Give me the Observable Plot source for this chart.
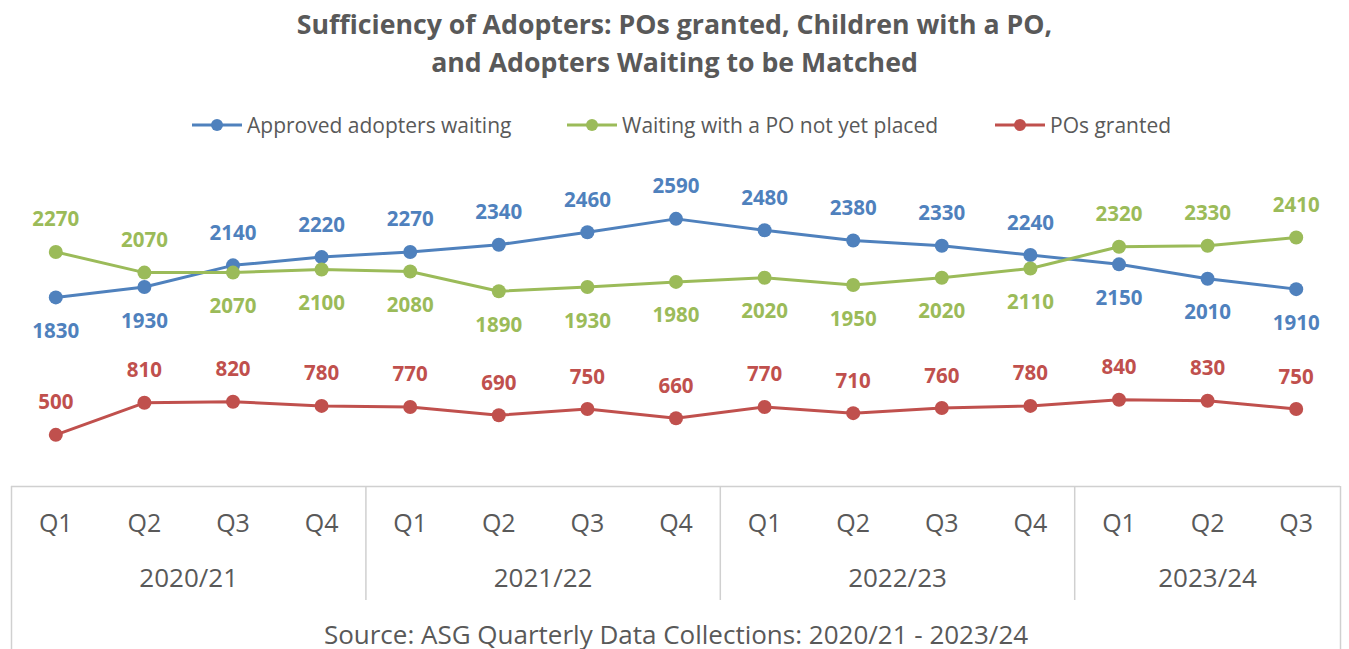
<!DOCTYPE html>
<html>
<head>
<meta charset="utf-8">
<script src="https://cdn.jsdelivr.net/npm/d3@7"></script>
<script src="https://cdn.jsdelivr.net/npm/@observablehq/plot@0.6"></script>
<style>
  html, body { margin: 0; padding: 0; background: #fff; }
  body { width: 1349px; height: 649px; overflow: hidden; font-family: "Open Sans", Lato, sans-serif; color: #595959; }
  #title { position: absolute; left: 0; top: 5px; width: 1349px; text-align: center; font-weight: bold; font-size: 26.7px; line-height: 38px; }
  #legend { position: absolute; top: 111px; left: 0; width: 1349px; height: 28px; }
  .item { position: absolute; display: flex; align-items: center; font-size: 21px; white-space: nowrap; }
  .item svg { margin-right: 5px; }
  #chart { position: absolute; top: 150px; left: 0; }
</style>
</head>
<body>
<div id="title">Sufficiency of Adopters: POs granted, Children with a PO,<br>and Adopters Waiting to be Matched</div>
<div id="legend"></div>
<div id="chart"></div>
<script>
const quarters = ["Q1","Q2","Q3","Q4","Q1","Q2","Q3","Q4","Q1","Q2","Q3","Q4","Q1","Q2","Q3"];
const years = ["2020/21","2020/21","2020/21","2020/21","2021/22","2021/22","2021/22","2021/22","2022/23","2022/23","2022/23","2022/23","2023/24","2023/24","2023/24"];
const seriesNames = ["Approved adopters waiting", "Waiting with a PO not yet placed", "POs granted"];
const seriesColors = ["#4F81BD", "#9BBB59", "#C0504D"];
const approved = [1830,1930,2140,2220,2270,2340,2460,2590,2480,2380,2330,2240,2150,2010,1910];
const waitingPO = [2270,2070,2070,2100,2080,1890,1930,1980,2020,1950,2020,2110,2320,2330,2410];
const posGranted = [500,810,820,780,770,690,750,660,770,710,760,780,840,830,750];
const approvedLabelSide = ["below","below","above","above","above","above","above","above","above","above","above","above","below","below","below"];
const waitingLabelSide = ["above","above","below","below","below","below","below","below","below","below","below","below","above","above","above"];
const grantedLabelSide = quarters.map(() => "above");
const caption = "Source: ASG Quarterly Data Collections: 2020/21 - 2023/24";

const seriesValues = [approved, waitingPO, posGranted];
const seriesSides = [approvedLabelSide, waitingLabelSide, grantedLabelSide];
const rows = [];
seriesNames.forEach((s, k) => {
  seriesValues[k].forEach((v, i) => rows.push({series: s, i, value: v, side: seriesSides[k][i]}));
});
const idx = quarters.map((_, i) => i);
const yearGroups = Array.from(d3.group(idx, i => years[i]), ([year, is]) => ({year, center: d3.mean(is)}));
const boundaries = idx.slice(1).filter(i => years[i] !== years[i - 1]).map(i => i - 0.5);
const edges = [-0.5, quarters.length - 0.5];

const font = "'Open Sans', Lato, sans-serif";
const chart = Plot.plot({
  width: 1349,
  height: 499,
  marginTop: 26,
  marginBottom: 163,
  marginLeft: 11,
  marginRight: 9,
  x: {domain: edges, axis: null},
  y: {domain: [0, 3000], axis: null},
  color: {domain: seriesNames, range: seriesColors},
  style: {fontFamily: font, color: "#595959", background: "white", overflow: "visible"},
  marks: [
    Plot.ruleY([0], {stroke: "#d0d0d0", strokeWidth: 1.5}),
    Plot.ruleX(boundaries, {stroke: "#d0d0d0", strokeWidth: 1.5, insetTop: 310, insetBottom: -114}),
    Plot.ruleX(edges, {stroke: "#d0d0d0", strokeWidth: 1.5, insetTop: 310, insetBottom: -163}),
    Plot.line(rows, {x: "i", y: "value", z: "series", stroke: "series", strokeWidth: 3}),
    Plot.dot(rows, {x: "i", y: "value", fill: "series", r: 7}),
    Plot.text(rows.filter(d => d.side === "above"), {x: "i", y: "value", text: d => String(d.value), fill: "series", dy: -32, fontSize: 20.5, fontWeight: "bold"}),
    Plot.text(rows.filter(d => d.side === "below"), {x: "i", y: "value", text: d => String(d.value), fill: "series", dy: 34, fontSize: 20.5, fontWeight: "bold"}),
    Plot.text(idx, {x: d => d, text: d => quarters[d], frameAnchor: "bottom", dy: 45, fontSize: 25, fill: "#595959"}),
    Plot.text(yearGroups, {x: "center", text: "year", frameAnchor: "bottom", dy: 100, fontSize: 26, fill: "#595959"}),
    Plot.text([caption], {text: d => d, frameAnchor: "bottom", dy: 157, fontSize: 26, fill: "#595959"})
  ]
});
document.getElementById("chart").appendChild(chart);

// legend
const legend = document.getElementById("legend");
const legendLefts = [192, 567, 995];
seriesNames.forEach((s, k) => {
  const div = document.createElement("div");
  div.className = "item";
  div.style.left = legendLefts[k] + "px";
  div.innerHTML = `<svg width="50" height="20"><line x1="0" x2="50" y1="10" y2="10" stroke="${seriesColors[k]}" stroke-width="3"/><circle cx="25" cy="10" r="6" fill="${seriesColors[k]}"/></svg><span>${s}</span>`;
  legend.appendChild(div);
});
</script>
</body>
</html>
